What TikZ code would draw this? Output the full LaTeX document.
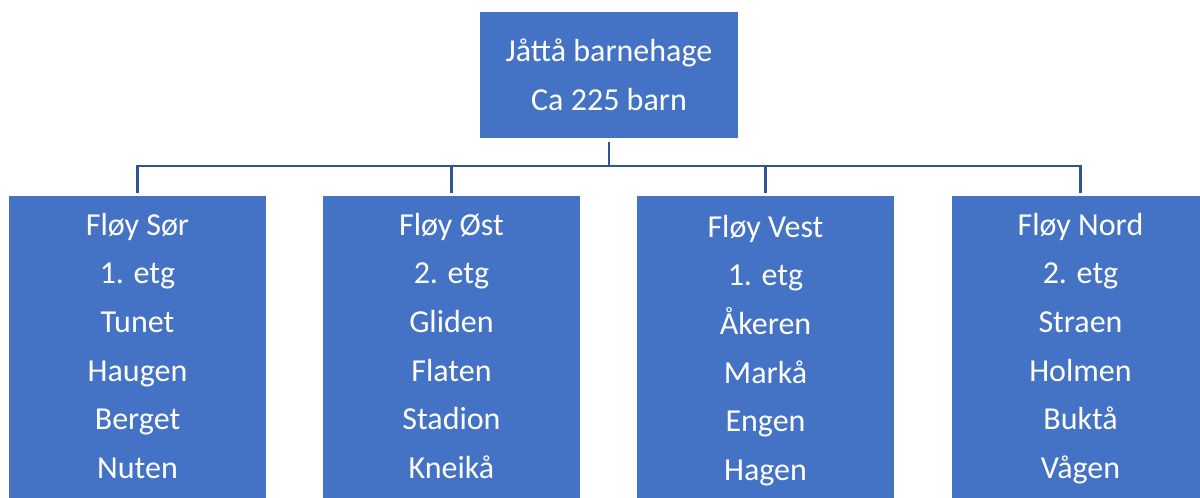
\documentclass[tikz,border=0pt]{standalone}
\usepackage{fontspec}
\setmainfont{Carlito}
\definecolor{boxblue}{HTML}{4472C4}
\definecolor{linkblue}{HTML}{2F5597}
\begin{document}
\begin{tikzpicture}[x=1pt,y=-1pt,
  box/.style={fill=boxblue, draw=none, inner sep=0pt, outer sep=0pt, anchor=north west},
  lbl/.style={text=white, font=\fontsize{32}{38}\selectfont, anchor=base, inner sep=0pt},
  link/.style={draw=linkblue, line width=2.4pt}]
\useasboundingbox (0,0) rectangle (1200,498);
\clip (0,0) rectangle (1200,498);
\node[box, minimum width=258pt, minimum height=126pt] (top) at (480,12) {};
\node[box, minimum width=257pt, minimum height=330pt] (b1) at (9,196) {};
\node[box, minimum width=257pt, minimum height=330pt] (b2) at (323,196) {};
\node[box, minimum width=257pt, minimum height=330pt] (b3) at (637,196) {};
\node[box, minimum width=257pt, minimum height=330pt] (b4) at (952,196) {};
\coordinate (hub) at (609,166);
\draw[link] ([yshift=-4pt]top.south) -- (hub);
\draw[link] ([yshift=3pt]b1.north) |- (hub) -| ([yshift=3pt]b4.north);
\draw[link] ([yshift=3pt]b2.north) -- (b2.north |- hub);
\draw[link] ([yshift=3pt]b3.north) -- (b3.north |- hub);
\node[lbl] (t1) at (609,61) {Jåttå barnehage};
\node[lbl] (t2) at (609,110) {Ca 225 barn};
\foreach \t [count=\i from 0] in {Fløy Sør,1. etg,Tunet,Haugen,Berget,Nuten}
  \node[lbl] (c1l\i) at (137.5,235+48.7*\i) {\t};
\foreach \t [count=\i from 0] in {Fløy Øst,2. etg,Gliden,Flaten,Stadion,Kneikå}
  \node[lbl] (c2l\i) at (451.5,235+48.7*\i) {\t};
\foreach \t [count=\i from 0] in {Fløy Vest,1. etg,Åkeren,Markå,Engen,Hagen}
  \node[lbl] (c3l\i) at (765.5,237+48.7*\i) {\t};
\foreach \t [count=\i from 0] in {Fløy Nord,2. etg,Straen,Holmen,Buktå,Vågen}
  \node[lbl] (c4l\i) at (1080.5,235+48.7*\i) {\t};
\end{tikzpicture}
\end{document}
